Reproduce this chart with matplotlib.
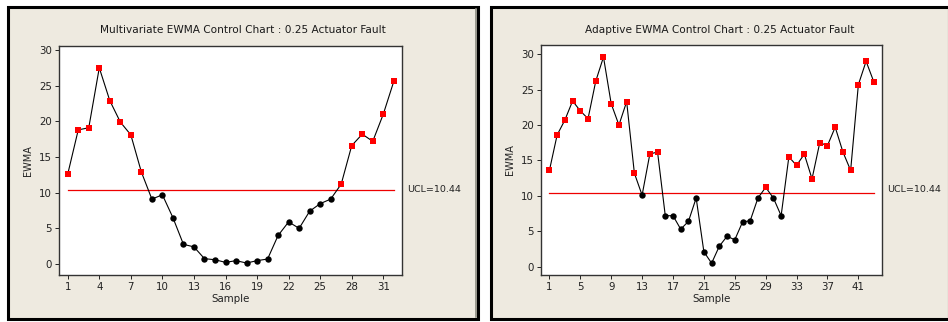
import matplotlib
matplotlib.use('Agg')

import matplotlib.pyplot as plt
from matplotlib.patches import Rectangle
import numpy as np

ucl = 10.44

mewma_vals = [12.6, 18.8, 19.1, 27.5, 22.9, 19.9, 18.1, 12.9, 9.1, 9.7,
              6.5, 2.76, 2.4, 0.75, 0.6, 0.23, 0.47, 0.14, 0.47, 0.7,
              4.0, 5.9, 5.0, 7.4, 8.46, 9.1, 11.2, 16.6, 18.2, 17.2,
              21.0, 25.6]
mewma_ticks = [1, 4, 7, 10, 13, 16, 19, 22, 25, 28, 31]

aewma_vals = [13.6, 18.6, 20.7, 23.4, 22.0, 20.9, 26.2, 29.6, 23.0, 20.0,
              23.3, 13.2, 10.1, 15.9, 16.2, 7.2, 7.2, 5.3, 6.4, 9.7,
              2.1, 0.5, 2.9, 4.3, 3.8, 6.3, 6.5, 9.7, 11.2, 9.7,
              7.2, 15.5, 14.3, 15.9, 12.4, 17.5, 17.1, 19.7, 16.2, 13.6,
              25.7, 29.0, 26.1]
aewma_ticks = [1, 5, 9, 13, 17, 21, 25, 29, 33, 37, 41]

titles = ["Multivariate EWMA Control Chart : 0.25 Actuator Fault",
          "Adaptive EWMA Control Chart : 0.25 Actuator Fault"]

W, H = 948, 322
bg = '#EEEAE0'

fig = plt.figure(figsize=(W / 100, H / 100), dpi=100)
fig.patch.set_facecolor('white')

# panel frames (pixel coords -> figure fraction)
panels = [(8, 7, 478, 319), (491, 7, 949, 319)]
for x0, y0, x1, y1 in panels:
    fig.patches.append(Rectangle((x0 / W, 1 - y1 / H), (x1 - x0) / W, (y1 - y0) / H,
                                 transform=fig.transFigure, facecolor=bg,
                                 edgecolor='black', linewidth=2.2, zorder=-1))
# grey shadow inside the left frame's right edge
fig.lines.append(plt.Line2D([475.5 / W, 475.5 / W], [1 - 317 / H, 1 - 9 / H],
                            transform=fig.transFigure, color='#8A8A80',
                            linewidth=1.2, zorder=-0.5))

axes_px = [(59, 46, 402, 275), (541, 45, 882, 275)]
xlims = [(0.17, 32.78), (-0.09, 44.06)]
ylims = [(-1.54, 30.56), (-1.17, 31.3)]
ucl_x = [407, 887]

datasets = [(mewma_vals, mewma_ticks), (aewma_vals, aewma_ticks)]

for i, (vals, ticks) in enumerate(datasets):
    x0, y0, x1, y1 = axes_px[i]
    ax = fig.add_axes([x0 / W, 1 - y1 / H, (x1 - x0) / W, (y1 - y0) / H])
    ax.set_facecolor('white')
    vals = np.array(vals)
    samples = np.arange(1, len(vals) + 1)

    ax.plot(samples, vals, color='black', linewidth=0.8, zorder=2)
    ax.plot([1, len(vals)], [ucl, ucl], color='#EE0000', linewidth=0.9, zorder=1)

    out = vals > ucl
    ax.plot(samples[out], vals[out], 's', color='#FF0000', markersize=4.6,
            markeredgewidth=0, zorder=3)
    ax.plot(samples[~out], vals[~out], 'o', color='black', markersize=4.6,
            markeredgewidth=0, zorder=3)

    ax.set_xlim(*xlims[i])
    ax.set_ylim(*ylims[i])
    ax.set_xticks(ticks)
    ax.set_yticks([0, 5, 10, 15, 20, 25, 30])
    ax.tick_params(labelsize=7.4, length=3, width=0.7, colors='#222222', pad=2)
    for s in ax.spines.values():
        s.set_color('#333333')
        s.set_linewidth(1.0)

    ax.set_xlabel('Sample', fontsize=7.4, color='#222222', labelpad=1.5)
    ax.set_ylabel('EWMA', fontsize=7, color='#222222', labelpad=4)

    px0, _, px1, _ = panels[i]
    fig.text((px0 + px1) / 2 / W, 1 - 30 / H, titles[i], fontsize=7.6,
             ha='center', va='center', color='#1a1a1a')
    fig.text(ucl_x[i] / W, 1 - 190 / H, 'UCL=10.44', fontsize=6.8,
             ha='left', va='center', color='#222222')

fig.savefig('out.png', dpi=100, facecolor=fig.get_facecolor())
